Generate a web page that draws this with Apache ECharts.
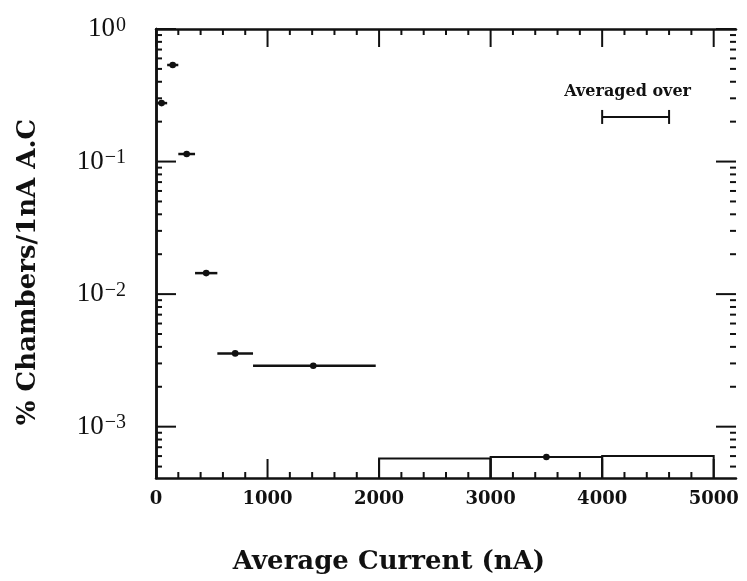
<!DOCTYPE html>
<html><head><meta charset="utf-8">
<script src="https://cdn.jsdelivr.net/npm/echarts@6/dist/echarts.min.js"></script>
<style>html,body{margin:0;padding:0;background:#fff}#c{width:747px;height:581px}</style>
</head><body><div id="c"></div>
<script>
// ---- data ----
const binLo     = [0, 100, 200, 350, 550, 870];
const binHi     = [100, 200, 350, 550, 870, 1970];
const binCenter = [50, 150, 275, 450, 710, 1410];
const binRate   = [0.276, 0.535, 0.114, 0.0144, 0.00357, 0.00288];

const histLo   = [2000, 3000, 4000];
const histHi   = [3000, 4000, 5000];
const histRate = [0.000575, 0.00059, 0.0006];
const avgPointX = [3500];
const avgPointY = [0.00059];

const legendBarRange = [4000, 4600];
const legendBarY = 0.217;
const legendText = 'Averaged over';
const legendTextY = 0.335;

// ---- axes ----
const xMin = 0, xMax = 5200;
const yMin = 0.00041, yMax = 1;
const xTickLabels = ['0', '1000', '2000', '3000', '4000', '5000'];
const xMajorTicks = [0, 1000, 2000, 3000, 4000, 5000];
const xMinorTicks = [200, 400, 600, 800, 1200, 1400, 1600, 1800, 2200, 2400, 2600, 2800,
                     3200, 3400, 3600, 3800, 4200, 4400, 4600, 4800];
const yMajorTicks = [0.001, 0.01, 0.1, 1];
const yTickExp    = ['−3', '−2', '−1', '0'];
const yMinorTicks = [0.0005, 0.0006, 0.0007, 0.0008, 0.0009,
                     0.002, 0.003, 0.004, 0.005, 0.006, 0.007, 0.008, 0.009,
                     0.02, 0.03, 0.04, 0.05, 0.06, 0.07, 0.08, 0.09,
                     0.2, 0.3, 0.4, 0.5, 0.6, 0.7, 0.8, 0.9];

const INK = '#111';

function xTicks(len, lenTop) {
  return function (params, api) {
    const cs = params.coordSys;
    const p = api.coord([api.value(0), yMax]);
    const top = cs.y, bot = cs.y + cs.height;
    return { type: 'group', children: [
      { type: 'line', shape: { x1: p[0], y1: bot, x2: p[0], y2: bot - len }, style: { stroke: INK, lineWidth: 2 } },
      { type: 'line', shape: { x1: p[0], y1: top, x2: p[0], y2: top + lenTop }, style: { stroke: INK, lineWidth: 2 } }
    ]};
  };
}
function yTicks(len) {
  return function (params, api) {
    const cs = params.coordSys;
    const p = api.coord([xMin, api.value(1)]);
    const l = cs.x, r = cs.x + cs.width;
    return { type: 'group', children: [
      { type: 'line', shape: { x1: l, y1: p[1], x2: l + len, y2: p[1] }, style: { stroke: INK, lineWidth: 2 } },
      { type: 'line', shape: { x1: r, y1: p[1], x2: r - len, y2: p[1] }, style: { stroke: INK, lineWidth: 2 } }
    ]};
  };
}

const chart = echarts.init(document.getElementById('c'));
chart.setOption({
  backgroundColor: '#fff',
  animation: false,
  grid: { left: 156, right: 11, top: 29, bottom: 103 },
  xAxis: [{
    type: 'value', position: 'bottom', min: xMin, max: xMax, interval: 1000,
    axisLine: { lineStyle: { color: INK, width: 2.5 } },
    axisTick: { show: false }, splitLine: { show: false },
    axisLabel: {
      margin: 12, color: INK, fontFamily: 'DejaVu Serif', fontWeight: 'bold', fontSize: 18,
      formatter: v => { const i = xMajorTicks.indexOf(v); return i >= 0 ? xTickLabels[i] : ''; }
    }
  }, {
    type: 'value', position: 'top', min: xMin, max: xMax, interval: 1000,
    axisLine: { lineStyle: { color: INK, width: 2.5 } },
    axisTick: { show: false }, splitLine: { show: false }, axisLabel: { show: false }
  }],
  yAxis: [{
    type: 'log', position: 'left', min: yMin, max: yMax, logBase: 10,
    axisLine: { lineStyle: { color: INK, width: 2.5 } },
    axisTick: { show: false }, splitLine: { show: false },
    axisLabel: {
      margin: 30, color: INK,
      formatter: v => {
        const e = Math.log10(v), r = Math.round(e);
        if (Math.abs(e - r) > 1e-6) return '';
        const i = yMajorTicks.findIndex(t => Math.abs(Math.log10(t) - r) < 1e-6);
        return i >= 0 ? '{b|10}{s|' + yTickExp[i] + '}' : '';
      },
      rich: {
        b: { fontFamily: 'Liberation Serif', fontSize: 27, color: INK, verticalAlign: 'bottom', lineHeight: 27 },
        s: { fontFamily: 'Liberation Serif', fontSize: 20, color: INK, verticalAlign: 'top', lineHeight: 20, padding: [0, 0, 13, 1] }
      }
    }
  }, {
    type: 'log', position: 'right', min: yMin, max: yMax, logBase: 10,
    axisLine: { lineStyle: { color: INK, width: 2.5 } },
    axisTick: { show: false }, splitLine: { show: false }, axisLabel: { show: false }
  }],
  graphic: [
    { type: 'text', x: 389, y: 562, style: { text: 'Average Current (nA)', font: 'bold 26px "DejaVu Serif"', fill: INK, align: 'center', verticalAlign: 'middle' } },
    { type: 'text', x: 28, y: 272, rotation: Math.PI / 2, style: { text: '% Chambers/1nA A.C', font: 'bold 26px "DejaVu Serif"', fill: INK, align: 'center', verticalAlign: 'middle' } }
  ],
  series: [
    { type: 'custom', name: 'xMajor', clip: false, silent: true, renderItem: xTicks(19, 18),
      data: xMajorTicks.map(v => [v, yMax]), encode: { x: 0, y: 1 } },
    { type: 'custom', name: 'xMinor', clip: false, silent: true, renderItem: xTicks(6, 6),
      data: xMinorTicks.map(v => [v, yMax]), encode: { x: 0, y: 1 } },
    { type: 'custom', name: 'yMajor', clip: false, silent: true, renderItem: yTicks(20),
      data: yMajorTicks.map(v => [xMin, v]), encode: { x: 0, y: 1 } },
    { type: 'custom', name: 'yMinor', clip: false, silent: true, renderItem: yTicks(6),
      data: yMinorTicks.map(v => [xMin, v]), encode: { x: 0, y: 1 } },
    { type: 'custom', name: 'bins', clip: false,
      data: binRate.map((r, i) => [binLo[i], binHi[i], binCenter[i], r]),
      encode: { x: [0, 1, 2], y: 3 },
      renderItem: (params, api) => {
        const a = api.coord([api.value(0), api.value(3)]);
        const b = api.coord([api.value(1), api.value(3)]);
        const c = api.coord([api.value(2), api.value(3)]);
        return { type: 'group', children: [
          { type: 'line', shape: { x1: a[0], y1: a[1], x2: b[0], y2: b[1] }, style: { stroke: INK, lineWidth: 2.5 } },
          { type: 'circle', shape: { cx: c[0], cy: c[1], r: 3.3 }, style: { fill: INK } }
        ]};
      } },
    { type: 'custom', name: 'hist', clip: false,
      data: histRate.map((r, i) => [histLo[i], histHi[i], r]),
      encode: { x: [0, 1], y: 2 },
      renderItem: (params, api) => {
        const cs = params.coordSys, bot = cs.y + cs.height;
        const a = api.coord([api.value(0), api.value(2)]);
        const b = api.coord([api.value(1), api.value(2)]);
        return { type: 'polyline', shape: { points: [[a[0], bot], a, b, [b[0], bot]] },
                 style: { stroke: INK, lineWidth: 2, fill: null } };
      } },
    { type: 'custom', name: 'avgPoint', clip: false,
      data: avgPointX.map((x, i) => [x, avgPointY[i]]),
      encode: { x: 0, y: 1 },
      renderItem: (params, api) => {
        const c = api.coord([api.value(0), api.value(1)]);
        return { type: 'circle', shape: { cx: c[0], cy: c[1], r: 3.3 }, style: { fill: INK } };
      } },
    { type: 'custom', name: 'legend', clip: false,
      data: [[legendBarRange[0], legendBarRange[1], legendBarY, legendTextY]],
      encode: { x: [0, 1], y: [2, 3] },
      renderItem: (params, api) => {
        const a = api.coord([api.value(0), api.value(2)]);
        const b = api.coord([api.value(1), api.value(2)]);
        const t = api.coord([(api.value(0) + api.value(1)) / 2, api.value(3)]);
        return { type: 'group', children: [
          { type: 'line', shape: { x1: a[0], y1: a[1], x2: b[0], y2: b[1] }, style: { stroke: INK, lineWidth: 2 } },
          { type: 'line', shape: { x1: a[0], y1: a[1] - 7, x2: a[0], y2: a[1] + 7 }, style: { stroke: INK, lineWidth: 2 } },
          { type: 'line', shape: { x1: b[0], y1: b[1] - 7, x2: b[0], y2: b[1] + 7 }, style: { stroke: INK, lineWidth: 2 } },
          { type: 'text', x: t[0] - 8, y: t[1], style: { text: legendText, font: 'bold 16px "DejaVu Serif"', fill: INK, align: 'center', verticalAlign: 'middle' } }
        ]};
      } }
  ]
});
</script></body></html>
